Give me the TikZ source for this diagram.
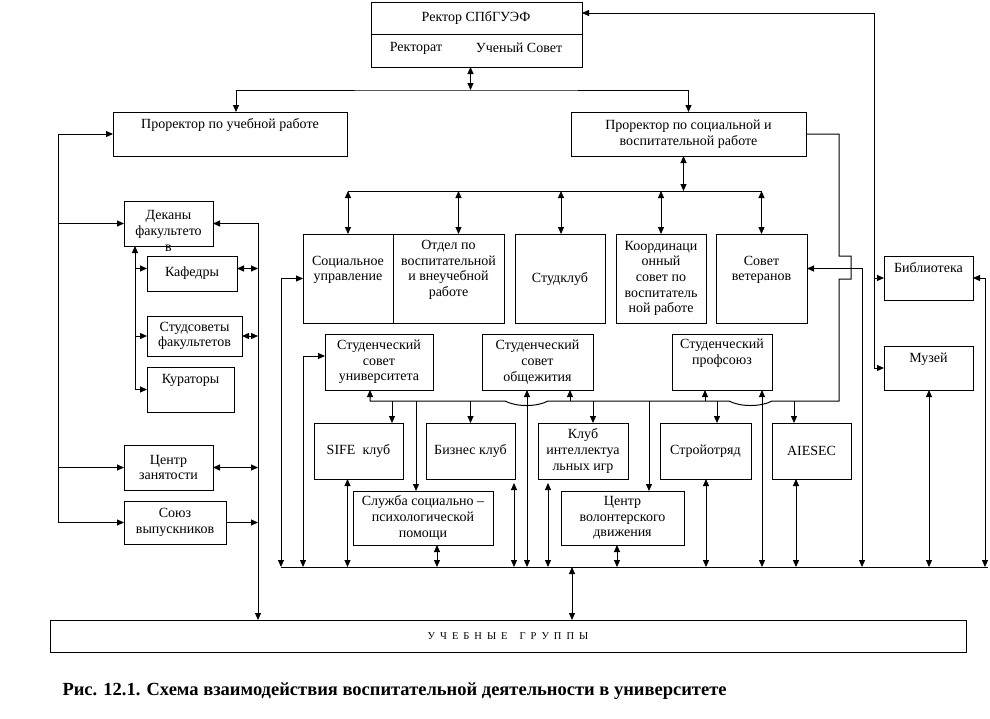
\documentclass[tikz,border=0pt]{standalone}
\usepackage{fontspec}
\setmainfont{Liberation Serif}
\usetikzlibrary{arrows.meta,calc}
\newcommand\bxf{\fontsize{14}{15.7}\selectfont}
\newcommand\mybox[6]{\node[box,minimum width={(#4-#2)*1pt},minimum height={(#5-#3)*1pt}] (#1) at (#2,#3) {#6};}
\begin{document}
\begin{tikzpicture}[x=1pt,y=-1pt,>={Triangle[length=7pt,width=6pt]},line width=1pt,
  box/.style={draw,line width=1pt,inner sep=0pt,outer sep=0pt,anchor=north west,align=center,font=\bxf},
  txt/.style={inner sep=0pt,align=center,font=\bxf}]
\fill[white] (0,0) rectangle (990,718);
\useasboundingbox (0,0) rectangle (990,718);
% boxes
\mybox{rect}{371}{2}{582}{67}{}
\mybox{pu}{113}{112}{347}{156}{Проректор по учебной работе\\\strut}
\mybox{ps}{571}{112}{806}{156}{Проректор по социальной и\\воспитательной работе}
\mybox{dek}{124}{201}{213}{246}{}
\mybox{kaf}{147}{256}{237}{291}{Кафедры}
\mybox{sts}{147}{316}{242}{356}{Студсоветы\\факультетов}
\mybox{kur}{147}{367}{234}{412}{Кураторы\\\strut}
\mybox{cz}{124}{445}{213}{490}{Центр\\занятости}
\mybox{soyuz}{124}{501}{226}{544}{Союз\\выпускников}
\mybox{su}{303}{234}{393}{323}{Социальное\\управление\\\strut}
\mybox{otd}{393}{234}{504}{323}{Отдел по\\воспитательной\\и внеучебной\\работе\\\strut}
\mybox{sk}{515}{234}{605}{323}{Студклуб}
\mybox{kord}{616}{234}{706}{323}{Координаци\\онный\\совет по\\воспитатель\\ной работе}
\mybox{sv}{716}{234}{807}{323}{Совет\\ветеранов\\\strut}
\mybox{ssu}{325}{334}{433}{390}{Студенческий\\совет\\университета}
\mybox{obsh}{482}{334}{593}{390}{Студенческий\\совет\\общежития}
\mybox{prof}{672}{334}{772}{390}{Студенческий\\профсоюз\\\strut}
\mybox{sife}{314}{423}{403}{479}{SIFE\ \ клуб}
\mybox{biz}{426}{423}{515}{479}{Бизнес клуб}
\mybox{kl}{538}{423}{628}{479}{Клуб\\интеллектуа\\льных игр}
\mybox{slu}{353}{491}{493}{545}{Служба социально –\\психологической\\помощи}
\mybox{cv}{561}{491}{684}{545}{Центр\\волонтерского\\движения}
\mybox{st}{660}{423}{751}{479}{Стройотряд}
\mybox{ai}{772}{423}{851}{479}{AIESEC}
\mybox{bib}{884}{256}{973}{300}{Библиотека\\\strut}
\mybox{muz}{884}{346}{973}{390}{Музей\\\strut}
\mybox{ug}{50}{620}{966}{652}{\fontsize{10.5}{12}\selectfont У\hspace{5pt}Ч\hspace{5pt}Е\hspace{5pt}Б\hspace{5pt}Н\hspace{5pt}Ы\hspace{5pt}Е\hspace{12pt}Г\hspace{5pt}Р\hspace{5pt}У\hspace{5pt}П\hspace{5pt}П\hspace{5pt}Ы}
% rector texts
\coordinate (dv) at (0,34);
\draw[line width=1pt] (rect.west |- dv) -- (rect.east |- dv);
\node[txt] (rt1) at (476,18) {Ректор СПбГУЭФ};
\node[txt] (rt2) at (416,48) {Ректорат};
\node[txt] (rt3) at (519,48) {Ученый Совет};
\node[txt,font=\fontsize{14}{16}\selectfont] (dekt) at (168.5,231) {Деканы\\факультето\\в};
% caption
\node[inner sep=0pt,anchor=west,font=\fontsize{18.5}{22}\selectfont\bfseries] (cap) at (62,691) {Рис. 12.1. Схема взаимодействия воспитательной деятельности в университете};
% coordinates
\coordinate (r0) at (470,90);
\coordinate (R1) at (0,191);
\coordinate (R2) at (0,401);
\coordinate (BUS) at (0,567);
\coordinate (BL) at (281,567);
\coordinate (BR) at (988,567);
\coordinate (rv) at (874,13);
\coordinate (LV) at (58,0);
\coordinate (MV) at (258,0);
\coordinate (IV) at (135,0);
% rector to prorectors
\draw[<->] ([xshift=-6pt]rect.south) -- ([xshift=-6pt]rect.south |- r0);
\draw[<->] ([xshift=6pt]pu.north) |- (r0) -| (ps.north);
% rector right line, library, museum
\draw[<->] (rect.east |- rv) -- (rv) |- (muz.west);
\draw[->] (rv |- bib.west) -- (bib.west);
% prorector soc. to rail 2 (with bridges)
\draw[<-] ([xshift=-9pt]ssu.south) |- (505,401) .. controls (516,407) and (537,407) .. (548,401) -- (729,401) .. controls (740,407) and (761,407) .. (772,401) -- (839,401) -- (839,279) -- (851,279) -- (851,256) -- (839,256) |- (ps.east);
% veterans to bus
\draw[<->] ([yshift=10pt]sv.east) -| (862,567);
% rail 1
\draw (su.north |- R1) -- (sv.north |- R1);
\draw[<->] ([xshift=-5pt]ps.south) -- ([xshift=-5pt]ps.south |- R1);
\foreach \n/\s in {su/0,otd/10,sk/1,kord/0,sv/0}
  \draw[<->] ([xshift=\s pt]\n.north) -- ([xshift=\s pt]\n.north |- R1);
% left column
\draw[->] (soyuz.west -| LV) |- (pu.west);
\draw[->] (dek.west -| LV) -- (dek.west);
\draw[->] (cz.west -| LV) -- (cz.west);
\draw[->] (soyuz.west -| LV) -- (soyuz.west);
\draw[<->] (dek.east) -- (dek.east -| MV) -- (MV |- ug.north);
\draw[<->] ([yshift=5pt]kaf.east) -- ([yshift=5pt]kaf.east -| MV);
\draw[<->] (sts.east) -- (sts.east -| MV);
\draw[<->] (cz.east) -- (cz.east -| MV);
\draw[->] (soyuz.east) -- (soyuz.east -| MV);
\draw[<->] (dek.south -| IV) |- (kur.west);
\draw[->] ([yshift=5pt]kaf.west -| IV) -- ([yshift=5pt]kaf.west);
\draw[->] (sts.west -| IV) -- (sts.west);
% bus
\draw (BL) -- (BR);
\draw[<->] (su.west) -| (BL);
\draw[<->] ([yshift=6pt]ssu.west) -| ([xshift=22pt]BL);
\foreach \n/\s in {sife/-11,slu/14,obsh/-10.5,cv/-5.5,st/0.5,muz/0.5,ai/-15.5}
  \draw[<->] ([xshift=\s pt]\n.south) -- ([xshift=\s pt]\n.south |- BUS);
\draw[<->] ([xshift=-1pt,yshift=-4pt]biz.south east) -- ([xshift=-1pt]biz.south east |- BUS);
\draw[<->] ([xshift=10pt,yshift=-4pt]kl.south west) -- ([xshift=10pt]kl.south west |- BUS);
\draw[<->] ([xshift=-10pt]prof.south east) -- ([xshift=-10pt]prof.south east |- BUS);
\draw[<->] (bib.east) -| ([xshift=-3pt]BR);
\draw[<->] ([xshift=64pt]ug.north) -- ([xshift=64pt]ug.north |- BUS);
% rail 2 branches
\draw[<-] ([xshift=-11pt]sife.north east) -- ([xshift=-11pt]sife.north east |- R2);
\draw[<-] (biz.north) -- (biz.north |- R2);
\draw[<-] ([xshift=10pt]kl.north) -- ([xshift=10pt]kl.north |- R2);
\draw[<-] ([xshift=11.5pt]st.north) -- ([xshift=11.5pt]st.north |- R2);
\draw[<-] ([xshift=-17.5pt]ai.north) -- ([xshift=-17.5pt]ai.north |- R2);
\draw[<-] ([xshift=63pt]slu.north west) -- ([xshift=63pt]slu.north west |- R2);
\draw[<-] ([xshift=88pt]cv.north west) -- ([xshift=88pt]cv.north west |- R2);
\draw[<-] ([xshift=32.5pt]obsh.south) -- ([xshift=32.5pt]obsh.south |- R2);
\draw[<-] ([xshift=-17pt]prof.south) -- ([xshift=-17pt]prof.south |- R2);
\end{tikzpicture}
\end{document}
